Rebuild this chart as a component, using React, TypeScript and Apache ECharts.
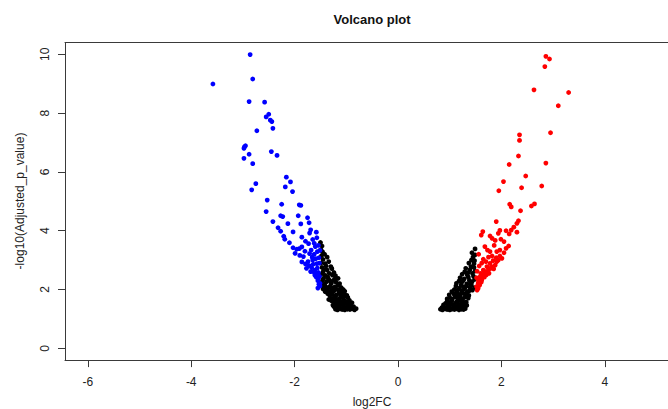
import React, { useEffect, useRef } from "react";
import * as echarts from "echarts";

const xTicks = [-6, -4, -2, 0, 2, 4];
const yTicks = [0, 2, 4, 6, 8, 10];

const blueDown: number[][] = [
  [-2.86, 9.99], [-3.58, 8.99], [-2.81, 9.16], [-2.88, 8.39], [-2.58, 8.37], [-2.50, 7.96], [-2.55, 7.87],
  [-2.47, 7.76], [-2.44, 7.71], [-2.42, 7.48], [-2.73, 7.40], [-2.95, 6.89], [-2.97, 6.85], [-2.98, 6.80],
  [-2.88, 6.60], [-2.98, 6.46], [-2.45, 6.69], [-2.34, 6.56], [-2.81, 6.28], [-2.16, 5.82],
  [-2.08, 5.66], [-2.75, 5.60], [-2.83, 5.39], [-2.18, 5.49], [-2.04, 5.33], [-2.53, 5.04], [-2.25, 4.90],
  [-1.91, 4.88], [-1.88, 4.86], [-2.55, 4.65], [-1.93, 4.51], [-2.27, 4.51], [-2.23, 4.48], [-1.75, 4.44],
  [-2.42, 4.31], [-2.13, 4.24], [-1.88, 4.23], [-1.72, 4.27], [-2.32, 4.10], [-2.27, 3.98], [-2.03, 3.96],
  [-1.69, 4.03], [-1.71, 3.92], [-2.21, 3.81], [-2.19, 3.71], [-1.57, 3.76], [-2.10, 3.59], [-1.86, 3.78],
  [-1.79, 3.64], [-1.73, 3.56], [-1.62, 3.57], [-1.60, 3.46], [-2.03, 3.42], [-1.96, 3.37], [-1.91, 3.39],
  [-1.86, 3.45], [-1.68, 3.34], [-1.56, 3.29], [-1.51, 3.33], [-1.99, 3.23], [-1.90, 3.16], [-1.83, 3.12],
  [-1.66, 3.10], [-1.59, 3.05], [-1.53, 3.08], [-1.86, 2.94], [-1.79, 2.87], [-1.72, 2.81], [-1.64, 2.86],
  [-1.56, 2.73], [-1.77, 2.72], [-1.69, 2.61], [-1.61, 2.49], [-1.54, 2.38], [-1.51, 2.21], [-1.51, 2.12],
  [-1.61, 2.66], [-1.58, 2.55], [-1.74, 2.95], [-1.67, 2.74], [-1.63, 2.60], [-1.58, 2.42], [-1.55, 2.30],
  [-1.53, 2.18], [-1.52, 2.45], [-1.54, 2.58], [-1.57, 2.88], [-1.65, 3.00], [-1.71, 3.22], [-1.80, 3.30],
  [-1.62, 3.20], [-1.54, 3.50], [-1.58, 3.95], [-1.65, 3.70], [-1.52, 2.90], [-1.55, 2.05],
];

const redUp: number[][] = [
  [2.86, 9.93], [2.93, 9.84], [2.84, 9.58], [2.63, 8.79], [3.30, 8.70], [3.10, 8.25], [2.95, 7.33],
  [2.35, 7.26], [2.35, 7.07], [2.33, 6.54], [2.15, 6.25], [2.86, 6.30], [2.47, 5.86], [2.04, 5.67],
  [2.39, 5.46], [2.78, 5.52], [1.95, 5.36],
  [2.16, 4.90], [2.19, 4.81], [2.58, 4.84], [2.64, 4.91], [2.37, 4.68], [1.90, 4.31], [2.33, 4.34],
  [2.30, 4.25], [2.24, 4.12], [2.19, 4.02], [1.64, 3.97], [1.61, 3.85], [1.97, 4.01], [1.94, 3.91],
  [2.09, 4.00], [2.15, 3.89], [2.30, 3.95], [1.78, 3.82], [1.82, 3.74], [1.88, 3.67], [1.99, 3.71],
  [2.05, 3.63], [2.14, 3.48], [2.09, 3.40], [1.68, 3.46], [1.73, 3.34], [1.78, 3.29], [1.97, 3.34],
  [1.91, 3.29], [1.65, 3.03], [1.75, 3.10], [1.82, 3.14], [1.90, 3.08], [1.97, 3.14], [1.55, 2.21],
  [1.59, 2.44], [1.65, 2.66], [1.72, 2.78], [1.78, 2.89], [1.84, 2.98], [1.55, 2.04], [1.62, 2.32],
  [1.68, 2.55], [1.75, 2.66], [1.81, 2.78], [1.91, 2.95], [1.52, 2.10], [1.55, 2.32], [1.64, 2.46],
  [1.70, 2.61], [1.79, 2.72], [1.88, 2.83], [1.94, 3.00], [2.01, 3.06], [1.53, 1.98], [1.58, 2.15],
  [1.61, 2.25], [1.67, 2.42], [1.71, 2.50], [1.76, 2.55], [1.85, 2.70], [1.60, 2.55], [1.53, 2.62],
  [1.57, 2.80], [1.62, 2.90], [1.70, 2.95], [2.05, 3.25], [1.86, 3.50], [1.56, 3.20], [1.52, 2.40],
];

const blackLeft: number[][] = [
  [-1.21, 1.33], [-1.17, 1.31], [-1.12, 1.34], [-1.08, 1.32], [-1.03, 1.31], [-0.98, 1.33], [-0.93, 1.32],
  [-0.88, 1.34], [-0.84, 1.31], [-0.81, 1.35], [-1.19, 1.38], [-1.14, 1.40], [-1.06, 1.37], [-1.00, 1.39],
  [-0.95, 1.38], [-0.90, 1.40], [-0.86, 1.42], [-1.10, 1.36], [-1.01, 1.35], [-0.91, 1.36], [-1.24, 1.42],
  [-1.26, 1.47], [-1.22, 1.52], [-1.16, 1.46], [-1.11, 1.50], [-1.05, 1.48], [-1.01, 1.53], [-0.96, 1.47],
  [-0.92, 1.51], [-0.89, 1.55], [-1.24, 1.58], [-1.18, 1.56], [-1.08, 1.59], [-1.03, 1.62], [-0.97, 1.58],
  [-1.13, 1.62], [-0.94, 1.63], [-1.29, 1.62], [-1.20, 1.64],
  [-1.34, 1.66], [-1.30, 1.70], [-1.26, 1.68], [-1.21, 1.73], [-1.15, 1.67], [-1.11, 1.75], [-1.06, 1.71],
  [-1.01, 1.78], [-0.97, 1.73], [-1.32, 1.80], [-1.27, 1.84], [-1.19, 1.82], [-1.13, 1.86], [-1.04, 1.83],
  [-0.99, 1.80], [-1.23, 1.77], [-1.08, 1.80], [-1.36, 1.86], [-1.09, 1.89],
  [-1.45, 2.02], [-1.41, 1.93], [-1.37, 1.98], [-1.33, 1.91], [-1.28, 2.05], [-1.24, 1.95], [-1.19, 2.01],
  [-1.14, 1.92], [-1.10, 2.07], [-1.06, 2.00], [-1.03, 1.94], [-1.40, 2.10], [-1.31, 2.12], [-1.22, 2.09],
  [-1.16, 2.14], [-1.29, 1.96], [-1.35, 2.06], [-1.43, 2.14], [-1.12, 2.01],
  [-1.49, 2.22], [-1.46, 2.30], [-1.42, 2.18], [-1.38, 2.27], [-1.34, 2.35], [-1.29, 2.21], [-1.25, 2.31],
  [-1.20, 2.25], [-1.16, 2.38], [-1.13, 2.20], [-1.44, 2.38], [-1.36, 2.42], [-1.31, 2.28], [-1.22, 2.36],
  [-1.49, 2.52], [-1.45, 2.60], [-1.41, 2.48], [-1.37, 2.66], [-1.33, 2.55], [-1.28, 2.71], [-1.24, 2.58],
  [-1.21, 2.47], [-1.47, 2.75], [-1.39, 2.80], [-1.30, 2.78], [-1.27, 2.49], [-1.43, 2.68],
  [-1.49, 2.90], [-1.45, 3.02], [-1.41, 2.88], [-1.37, 3.10], [-1.34, 2.95], [-1.48, 3.15], [-1.42, 3.20],
  [-1.49, 3.35], [-1.47, 3.48], [-1.50, 3.60], [-1.46, 3.28],
];

const blackRight: number[][] = [
  [0.82, 1.33], [0.86, 1.31], [0.91, 1.34], [0.95, 1.32], [1.00, 1.31], [1.04, 1.33], [1.09, 1.32],
  [1.13, 1.34], [1.18, 1.31], [1.23, 1.33], [1.27, 1.32], [1.30, 1.35], [0.85, 1.39], [0.93, 1.38],
  [0.98, 1.41], [1.06, 1.37], [1.15, 1.40], [1.21, 1.38], [1.28, 1.41], [1.02, 1.36], [1.11, 1.38],
  [0.88, 1.48], [0.92, 1.53], [0.97, 1.46], [1.02, 1.51], [1.07, 1.49], [1.12, 1.55], [1.17, 1.47],
  [1.22, 1.52], [1.27, 1.50], [1.32, 1.57], [0.95, 1.60], [1.04, 1.62], [1.14, 1.59], [1.25, 1.61],
  [1.09, 1.44], [1.19, 1.43], [1.33, 1.46], [0.99, 1.56], [1.20, 1.64],
  [0.95, 1.68], [1.00, 1.73], [1.05, 1.67], [1.10, 1.76], [1.15, 1.70], [1.20, 1.78], [1.25, 1.69],
  [1.30, 1.74], [1.36, 1.71], [0.99, 1.82], [1.08, 1.85], [1.18, 1.83], [1.28, 1.86], [1.37, 1.80],
  [1.23, 1.88], [1.13, 1.80], [1.33, 1.83],
  [1.04, 1.93], [1.09, 2.00], [1.14, 1.91], [1.19, 2.05], [1.24, 1.95], [1.29, 2.03], [1.34, 1.92],
  [1.39, 2.08], [1.44, 1.98], [1.48, 2.06], [1.12, 2.12], [1.22, 2.15], [1.32, 2.11], [1.42, 2.14],
  [1.16, 1.99], [1.38, 1.96], [1.27, 2.09],
  [1.13, 2.21], [1.18, 2.29], [1.23, 2.24], [1.28, 2.36], [1.33, 2.19], [1.38, 2.31], [1.43, 2.26],
  [1.48, 2.34], [1.20, 2.40], [1.36, 2.42], [1.46, 2.45], [1.26, 2.30], [1.40, 2.20],
  [1.24, 2.52], [1.29, 2.60], [1.34, 2.49], [1.39, 2.67], [1.44, 2.55], [1.49, 2.63], [1.31, 2.72],
  [1.41, 2.78], [1.47, 2.75], [1.36, 2.58],
  [1.37, 2.90], [1.42, 3.00], [1.47, 2.88], [1.45, 3.10], [1.49, 3.18], [1.43, 3.25], [1.49, 3.38],
  [1.48, 2.98],
];

const FONT = "'Liberation Sans', Arial, sans-serif";
const LINE = "#3a3a3a";

export default function App() {
  const ref = useRef<HTMLDivElement>(null);
  useEffect(() => {
    if (!ref.current) return;
    const chart = echarts.init(ref.current, undefined, { renderer: "svg" });
    const pt = (color: string, data: number[][]) => ({
      type: "scatter",
      data,
      symbol: "circle",
      symbolSize: 4.8,
      itemStyle: { color, opacity: 1 },
      silent: true,
    });
    chart.setOption({
      animation: false,
      backgroundColor: "#ffffff",
      textStyle: { fontFamily: FONT },
      grid: { left: 65, right: 0, top: 42.5, bottom: 48.9, containLabel: false },
      xAxis: [
        {
          type: "value",
          min: -6.441,
          max: 5.222,
          position: "bottom",
          splitLine: { show: false },
          axisLine: { show: true, onZero: false, lineStyle: { color: LINE, width: 1 } },
          axisTick: { show: true, inside: false, length: 7, customValues: xTicks, lineStyle: { color: LINE } },
          axisLabel: { show: true, customValues: xTicks, margin: 16, fontSize: 12, color: "#222", fontFamily: FONT },
        },
        {
          type: "value",
          min: -6.441,
          max: 5.222,
          position: "top",
          splitLine: { show: false },
          axisLine: { show: true, onZero: false, lineStyle: { color: LINE, width: 1 } },
          axisTick: { show: false },
          axisLabel: { show: false },
        },
      ],
      yAxis: {
        type: "value",
        min: -0.4,
        max: 10.4,
        splitLine: { show: false },
        axisLine: { show: true, onZero: false, lineStyle: { color: LINE, width: 1 } },
        axisTick: { show: true, length: 7, customValues: yTicks, lineStyle: { color: LINE } },
        axisLabel: { show: true, customValues: yTicks, rotate: 90, margin: 14, fontSize: 12, color: "#222", fontFamily: FONT },
      },
      graphic: [
        {
          type: "text",
          x: 372,
          y: 19,
          style: { text: "Volcano plot", font: `bold 13px ${FONT}`, fill: "#111", textAlign: "center", textVerticalAlign: "middle" },
        },
        {
          type: "text",
          x: 372,
          y: 402,
          style: { text: "log2FC", font: `12px ${FONT}`, fill: "#222", textAlign: "center", textVerticalAlign: "middle" },
        },
        {
          type: "text",
          x: 20,
          y: 201,
          rotation: Math.PI / 2,
          style: { text: "-log10(Adjusted_p_value)", font: `12px ${FONT}`, fill: "#222", textAlign: "center", textVerticalAlign: "middle" },
        },
      ],
      series: [pt("#000000", blackLeft), pt("#000000", blackRight), pt("#0000ff", blueDown), pt("#ff0000", redUp)],
    });
    return () => chart.dispose();
  }, []);
  return (
    <div
      ref={ref}
      style={{ position: "fixed", left: 0, top: 0, width: 668, height: 409, background: "#fff" }}
    />
  );
}
